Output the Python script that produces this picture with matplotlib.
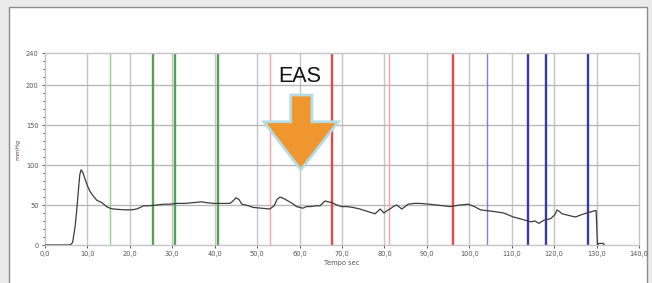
import matplotlib
matplotlib.use("Agg")
import matplotlib.pyplot as plt
from matplotlib.patches import Rectangle, Polygon

# pressure trace (seconds, mmHg)
time_s = [0, 5.9, 6.5, 7.1, 7.5, 7.9, 8.2, 8.5, 8.9, 9.4, 10.0, 10.6, 11.4, 12.2, 13.4,
          14.5, 15.3, 16.1, 18.5, 20.5, 21.6, 22.5, 23.2, 24.5, 26.3, 28, 29.5, 31, 33,
          35, 36.9, 38, 39.7, 41.5, 43.6, 44.3, 45, 45.7, 46.4, 48, 49, 51, 53, 54, 54.7,
          55.4, 56.3, 57.3, 58.3, 59.3, 60.8, 61.6, 62.5, 64, 64.8, 66, 66.8, 67.6, 68.8,
          69.9, 71.1, 72.5, 74.2, 76, 77.8, 78.4, 79, 79.9, 80.6, 81.3, 82.1, 82.9, 84.1,
          85.6, 87, 88.4, 90.5, 92.3, 94, 95.5, 97.8, 99.8, 101.2, 102.6, 104, 105.7,
          108.1, 110.4, 112.5, 114.5, 115.5, 116.4, 117.6, 119.2, 120.2, 120.7, 121.9,
          123.4, 125, 126.5, 127.7, 129.7, 129.9, 130.2, 130.5, 131.6, 131.8]
pressure = [0, 0, 3, 23, 45, 70, 88, 94, 91, 83, 74, 67, 61, 56, 53,
            48, 46, 45, 44, 44, 45, 47, 49, 49, 50, 51, 51, 52, 52,
            53, 54, 53, 52, 52, 52, 55, 59, 57, 51, 49, 47, 46, 45, 49, 57,
            60, 58, 55, 52, 48, 46, 48, 48, 49, 49, 55, 54, 53, 50,
            48, 48, 47, 45, 42, 39, 42, 45, 40, 43, 45, 48, 50, 45,
            51, 52, 52, 51, 50, 49, 48, 50, 51, 48, 44, 43, 42,
            40, 35, 32, 29, 30, 27, 31, 33, 38, 44, 39,
            37, 35, 38, 40, 43, 43, 0, 2, 2, 0]

# event markers (position, strong line?)
green_x = [15.3, 25.5, 30.6, 40.8]
green_strong = [False, True, True, True]
red_x = [53.0, 67.6, 81.1, 96.2]
red_strong = [False, True, False, True]
blue_x = [104.2, 113.8, 118.1, 128.0]
blue_strong = [False, True, True, True]

x_ticks = list(range(0, 150, 10))
x_labels = ["%d,0" % v for v in x_ticks]
y_ticks = [0, 50, 100, 150, 200, 240]

fig = plt.figure(figsize=(6.52, 2.83), dpi=100, facecolor="#ebebeb")
fig.patches.append(Rectangle((9 / 652, -0.01), 638 / 652, 1 - 7 / 283 + 0.01,
                             transform=fig.transFigure, facecolor="white",
                             edgecolor="#8c8c8c", lw=1, zorder=-5))

ax = fig.add_axes([45 / 652, 38 / 283, 594 / 652, 192 / 283])
ax.set_facecolor("white")

for v in x_ticks[1:-1]:
    ax.axvline(v, color="#c4c4c4", lw=1, zorder=1)
for v in [50, 100, 150, 200]:
    ax.axhline(v, color="#b8b8b8", lw=1, zorder=1)

for xs, st, light, dark in [(green_x, green_strong, "#8fd08f", "#55a055"),
                            (red_x, red_strong, "#f5a3a3", "#e8474a"),
                            (blue_x, blue_strong, "#8080d4", "#3838a6")]:
    for v, s in zip(xs, st):
        ax.axvline(v, color=dark if s else light, lw=1.7 if s else 1.0, zorder=2)

ax.plot(time_s, pressure, color="#3c3c3c", lw=0.9, zorder=3)

# EAS arrow
arrow = Polygon([(57.9, 187.5), (62.9, 187.5), (62.9, 154), (69.1, 154), (60.3, 94),
                 (51.6, 154), (57.9, 154)], closed=True, facecolor="#f0962e",
                edgecolor="#b5dbe3", lw=2, zorder=5)
ax.add_patch(arrow)
ax.text(60.0, 210, "EAS", ha="center", va="center", fontsize=15.5,
        family="Liberation Sans", color="#111111", zorder=6)

ax.set_xlim(0, 140)
ax.set_ylim(0, 240)
ax.set_xticks(x_ticks)
ax.set_xticklabels(x_labels)
ax.set_yticks(y_ticks)
ax.set_yticks(range(0, 241, 10), minor=True)
ax.tick_params(axis="both", labelsize=4.8, labelcolor="#555555", color="#555555",
               length=2.5, width=0.7, pad=2)
ax.tick_params(axis="y", which="minor", length=1.5, width=0.8, color="#555555")
ax.tick_params(axis="x", which="minor", length=0)
for s in ax.spines.values():
    s.set_color("#c4c4c4")
    s.set_linewidth(1)
ax.set_xlabel("Tempo sec", fontsize=4.8, color="#555555", labelpad=2)
ax.set_ylabel("mmHg", fontsize=4.5, color="#6b4a4a", labelpad=4)

fig.savefig("out.png", dpi=100, facecolor=fig.get_facecolor())
